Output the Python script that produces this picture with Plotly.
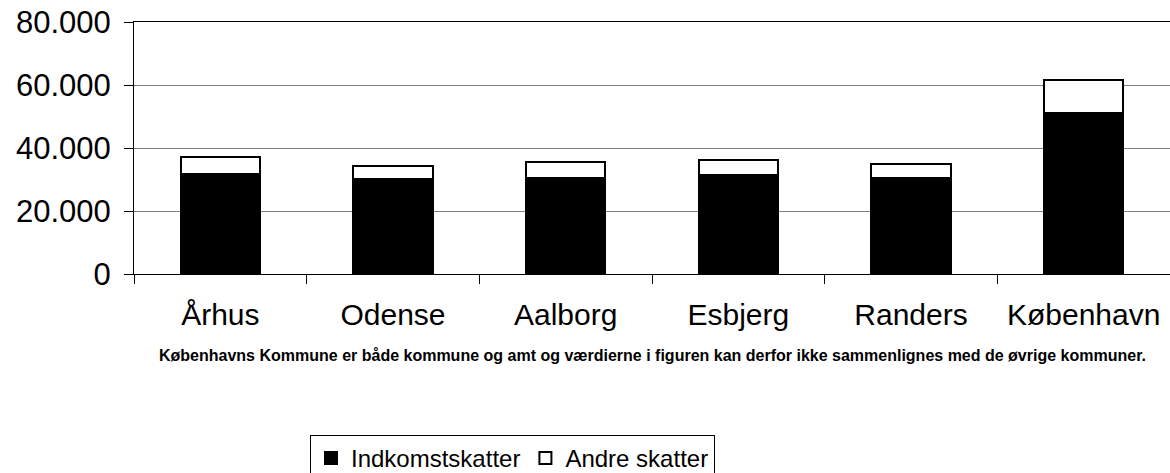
import plotly.graph_objects as go

categories = ["Århus", "Odense", "Aalborg", "Esbjerg", "Randers", "København"]
indkomstskatter = [31600, 30100, 30600, 31300, 30600, 51000]
andre_skatter = [5500, 4300, 5100, 4900, 4300, 10700]
y_ticks = [0, 20000, 40000, 60000, 80000]
footnote = ("Københavns Kommune er både kommune og amt og værdierne i figuren "
            "kan derfor ikke sammenlignes med de øvrige kommuner.")

FONT = "Liberation Sans, Arial, sans-serif"
W, H = 1170, 473
ML, MR, MT, MB = 134, 0, 22, 199
PW, PH = W - ML - MR, H - MT - MB

fig = go.Figure()
fig.add_trace(go.Bar(x=categories, y=indkomstskatter, name="Indkomstskatter",
                     marker=dict(color="black", line=dict(color="black", width=2))))
fig.add_trace(go.Bar(x=categories, y=andre_skatter, name="Andre skatter",
                     marker=dict(color="white", line=dict(color="black", width=2))))

fig.update_layout(
    width=W, height=H,
    margin=dict(l=ML, r=MR, t=MT, b=MB, autoexpand=False),
    barmode="stack", bargap=0.54,
    separators=",.",
    paper_bgcolor="white", plot_bgcolor="white",
    font=dict(family=FONT, color="black"),
    showlegend=True,
    legend=dict(orientation="h", xref="container", yref="container",
                x=310/W, y=1-435/H, xanchor="left", yanchor="top",
                bordercolor="black", borderwidth=1,
                font=dict(size=24, family=FONT), traceorder="normal",
                itemsizing="constant"),
)
fig.update_xaxes(range=[-0.5, 5.5], showline=True, linecolor="black", linewidth=1,
                 mirror=True, ticks="outside", tickson="boundaries", ticklen=9,
                 tickcolor="black", tickfont=dict(size=30, family=FONT),
                 showgrid=False, ticklabelstandoff=14, automargin=False)
fig.update_yaxes(range=[0, 80000], tickvals=y_ticks, tickformat=",d",
                 showline=True, linecolor="black", linewidth=1,
                 ticks="outside", ticklen=9, tickcolor="black",
                 tickfont=dict(size=31, family=FONT),
                 showgrid=True, gridcolor="#808080", gridwidth=1,
                 zeroline=False, ticklabelstandoff=7, automargin=False)

fig.add_annotation(text="<b>" + footnote + "</b>", xref="paper", yref="paper",
                   x=(652 - ML) / PW, y=(H - MB - 355) / PH,
                   xanchor="center", yanchor="middle",
                   showarrow=False, font=dict(size=16, family=FONT, color="black"))

fig.write_html("out.html",
               config={"displayModeBar": False},
               post_script="document.body.style.margin='0';"
                           "document.body.style.overflow='hidden';")
